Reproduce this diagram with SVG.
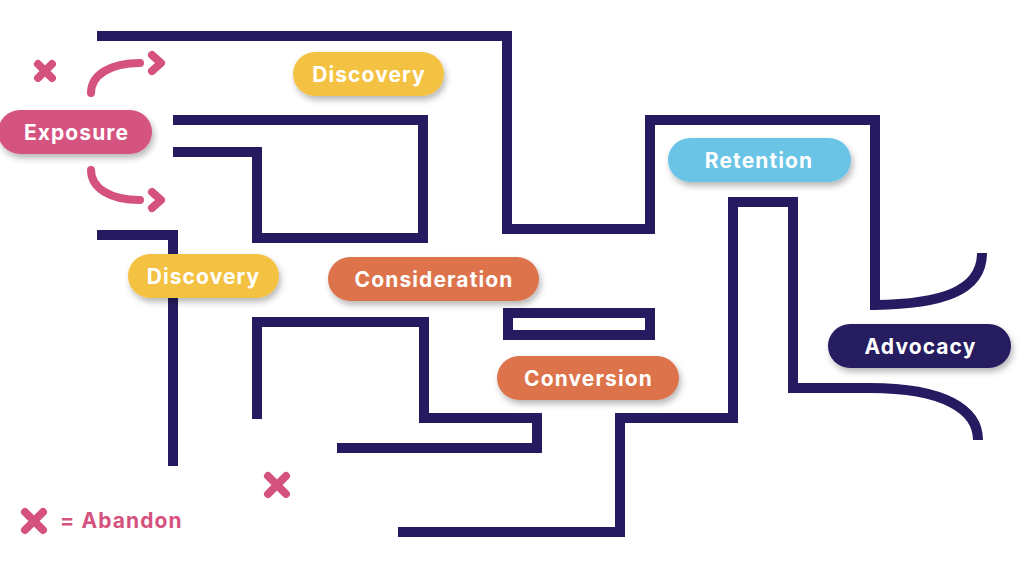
<svg xmlns="http://www.w3.org/2000/svg" width="1024" height="565" viewBox="0 0 1024 565">
<defs>
<filter id="sh" x="-20%" y="-40%" width="140%" height="190%">
<feDropShadow dx="2" dy="4" stdDeviation="3" flood-color="#000" flood-opacity="0.28"/>
</filter>
<style>
.maze{fill:none;stroke:#261b60;stroke-width:10;stroke-linejoin:miter}
.pk{fill:none;stroke:#d5527f;stroke-width:8;stroke-linecap:round;stroke-linejoin:round}
.lbl{font-family:Inter,"Open Sans","Liberation Sans",sans-serif;font-weight:700;font-size:21px;letter-spacing:1.1px;fill:#fff;text-anchor:middle}
.pill{filter:url(#sh)}
</style>
</defs>
<rect width="1024" height="565" fill="#fff"/>
<g id="connectors">
<path class="maze" d="M97,36 H507 V229 H650 V120 H875 V305 C940,304 982,292 982,253"/>
<path class="maze" d="M173,120 H423 V238 H257 V152 H173"/>
<path class="maze" d="M97,235 H173 V466"/>
<path class="maze" d="M257,419 V322 H424 V418 H537 V448 H337"/>
<rect class="maze" x="508" y="313" width="142" height="22"/>
<path class="maze" d="M398,532 H620 V418 H733 V202 H793 V388 H870 C945,388 978,410 978,440"/>
<path class="pk" d="M91,93 C91,75 110,63 140,63"/>
<path class="pk" d="M152,55 L161,63 L152,71"/>
<path class="pk" d="M91,170 C91,188 110,200 140,200"/>
<path class="pk" d="M152,192 L161,200 L152,208"/>
</g>
<g id="exposure"><rect class="pill" x="-2" y="110" width="154" height="44" rx="22" fill="#d5527f"/><text class="lbl" x="76.5" y="139.5">Exposure</text></g>
<g id="discovery-top"><rect class="pill" x="293" y="52" width="151" height="44" rx="22" fill="#f4c242"/><text class="lbl" x="369" y="81.5">Discovery</text></g>
<g id="retention"><rect class="pill" x="668" y="138" width="183" height="44" rx="22" fill="#6bc4e6"/><text class="lbl" x="759" y="167.5">Retention</text></g>
<g id="advocacy"><rect class="pill" x="828" y="324" width="183" height="44" rx="22" fill="#261b60"/><text class="lbl" x="920.5" y="353.5">Advocacy</text></g>
<g id="discovery-left"><rect class="pill" x="128" y="254" width="151" height="44" rx="22" fill="#f4c242"/><text class="lbl" x="203.5" y="283.5">Discovery</text></g>
<g id="consideration"><rect class="pill" x="328" y="257" width="211" height="44" rx="22" fill="#dc734c"/><text class="lbl" x="434" y="286.5">Consideration</text></g>
<g id="conversion"><rect class="pill" x="497" y="356" width="182" height="44" rx="22" fill="#dc734c"/><text class="lbl" x="588.5" y="385.5">Conversion</text></g>
<g id="abandon-marks">
<path class="pk" d="M38,64 L52,78 M52,64 L38,78"/>
<path class="pk" d="M268,476 L286,494 M286,476 L268,494"/>
<path class="pk" d="M25,512 L43,530 M43,512 L25,530"/>
<text x="60" y="528" style="font-family:Inter,'Open Sans','Liberation Sans',sans-serif;font-weight:700;font-size:21px;letter-spacing:1.1px;fill:#d5527f">= Abandon</text>
</g>
</svg>
